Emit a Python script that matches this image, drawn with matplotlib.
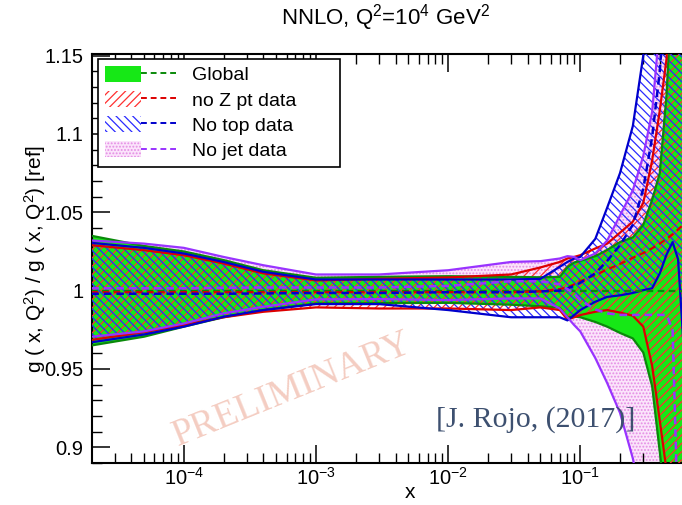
import numpy as np
import matplotlib
matplotlib.use('Agg')
import matplotlib.pyplot as plt
from matplotlib.patches import Patch
from matplotlib.lines import Line2D
from matplotlib.legend_handler import HandlerTuple
from matplotlib.ticker import LogLocator, MultipleLocator, FuncFormatter, NullFormatter

plt.rcParams['font.family'] = ['Liberation Sans', 'DejaVu Sans']
plt.rcParams['mathtext.fontset'] = 'custom'
plt.rcParams['mathtext.rm'] = 'Liberation Sans'
plt.rcParams['mathtext.it'] = 'Liberation Sans:italic'
plt.rcParams['mathtext.bf'] = 'Liberation Sans:bold'
plt.rcParams['hatch.linewidth'] = 0.9

# ---------------- data ----------------
x_vals = [2.0e-5, 5e-5, 1e-4, 2e-4, 4e-4, 1e-3, 3e-3, 1e-2, 3e-2, 5e-2, 7e-2, 8e-2, 9e-2,
          0.1, 0.13, 0.16, 0.2, 0.25, 0.3, 0.35, 0.4, 0.45, 0.5, 0.55, 0.6]

global_up = [1.035, 1.0285, 1.025, 1.0195, 1.013, 1.0082, 1.0088, 1.0092, 1.0088, 1.0085, 1.0088,
             1.015, 1.018, 1.019, 1.022, 1.026, 1.031, 1.034, 1.042, 1.058, 1.075, 1.125, 1.2, 1.3, 1.4]
global_lo = [0.965, 0.9706, 0.977, 0.983, 0.9876, 0.9918, 0.992, 0.9922, 0.991, 0.990, 0.989,
             0.983, 0.9835, 0.983, 0.980, 0.977, 0.973, 0.9695, 0.9605, 0.939, 0.897, 0.86, 0.83, 0.80, 0.77]
global_c = [1.0, 1.0, 1.0, 1.0, 1.0, 1.0, 1.0, 1.0, 1.0, 1.0, 1.0, 1.0, 1.0,
            1.0, 1.0, 1.0, 1.0, 1.0, 1.0, 1.0, 1.0, 1.0, 1.0, 1.0, 1.0]

noz_up = [1.029, 1.0258, 1.0226, 1.0173, 1.011, 1.0065, 1.0075, 1.0084, 1.0103, 1.0148, 1.0183,
          1.0205, 1.0215, 1.0226, 1.0269, 1.030, 1.037, 1.044, 1.056, 1.083, 1.115, 1.148, 1.22, 1.3, 1.4]
noz_lo = [0.9685, 0.9735, 0.978, 0.983, 0.9865, 0.9893, 0.9886, 0.9886, 0.9876, 0.9893, 0.9876,
          0.9815, 0.983, 0.9844, 0.9865, 0.9876, 0.986, 0.984, 0.977, 0.952, 0.917, 0.885, 0.85, 0.82, 0.79]
noz_c = [0.999, 0.999, 0.999, 0.999, 0.999, 0.999, 0.999, 0.999, 0.999, 0.9995, 1.001,
         1.002, 1.004, 1.006, 1.010, 1.0135, 1.017, 1.021, 1.024, 1.027, 1.030, 1.033, 1.036, 1.039, 1.042]

notop_up = [1.0305, 1.0273, 1.0237, 1.0183, 1.012, 1.0071, 1.0071, 1.0071, 1.0071, 1.0075, 1.0152,
            1.0183, 1.0205, 1.0215, 1.033, 1.053, 1.075, 1.105, 1.15, 1.22, 1.3, 1.4, 1.5, 1.6, 1.7]
notop_lo = [0.967, 0.972, 0.977, 0.9833, 0.9876, 0.9914, 0.9914, 0.9876, 0.983, 0.983, 0.983,
            0.981, 0.9844, 0.9876, 0.9929, 0.996, 0.997, 0.9985, 1.0003, 1.0015, 1.011, 1.023, 1.031, 1.02, 0.97]
notop_c = [0.998, 0.998, 0.998, 0.998, 0.9982, 0.9985, 0.9985, 0.999, 0.999, 0.9995, 1.0,
           1.0015, 1.003, 1.005, 1.011, 1.019, 1.029, 1.042, 1.065, 1.098, 1.14, 1.2, 1.27, 1.35, 1.45]

nojet_up = [1.032, 1.030, 1.0273, 1.0215, 1.0162, 1.0103, 1.0103, 1.013, 1.0183, 1.0188, 1.0205,
            1.022, 1.0215, 1.0194, 1.0237, 1.032, 1.048, 1.064, 1.086, 1.114, 1.17, 1.25, 1.35, 1.45, 1.55]
nojet_lo = [0.9706, 0.974, 0.979, 0.9855, 0.9897, 0.9944, 0.9946, 0.994, 0.995, 0.995, 0.9886,
            0.983, 0.978, 0.974, 0.957, 0.941, 0.922, 0.893, 0.86, 0.83, 0.80, 0.77, 0.74, 0.70, 0.66]
nojet_c = [1.0015, 1.0015, 1.0015, 1.0018, 1.002, 1.002, 1.002, 1.003, 1.006, 1.006, 1.004,
           1.001, 0.998, 0.994, 0.988, 0.9855, 0.9845, 0.9845, 0.9845, 0.9845, 0.9845, 0.9845, 0.975, 0.85, 0.75]

labels = ["Global", "no Z pt data", "No top data", "No jet data"]
y_ticks = [0.9, 0.95, 1.0, 1.05, 1.1, 1.15]

# ---------------- styling ----------------
GREEN = '#16e816'
DGREEN = '#0a8a0a'
RED = '#dd0000'
LRED = '#ff3030'
BLUE = '#0000cc'
LBLUE = '#2a2aff'
VIOL = '#9933ff'
PINK_FACE = '#fbe4fb'
PINK_HATCH = '#e48ce4'
H_RED = '////'
H_BLUE = '\\\\\\\\'
H_PINK = '.....'

fig = plt.figure(figsize=(6.82, 5.05), dpi=100)
ax = fig.add_axes([92/682, 1-463/505, 1-92/682, (463-54)/505])
ax.set_xscale('log')
ax.set_xlim(2.02e-5, 0.589)
ax.set_ylim(0.89, 1.151)

x = np.array(x_vals)

# no jet: dotted pink fill (bottom layer)
ax.fill_between(x, nojet_lo, nojet_up, facecolor=PINK_FACE, edgecolor=PINK_HATCH,
                hatch=H_PINK, linewidth=0, zorder=1)
# global: solid green
ax.fill_between(x, global_lo, global_up, facecolor=GREEN, edgecolor='none', linewidth=0, zorder=2)
# no Z pt: red hatch
ax.fill_between(x, noz_lo, noz_up, facecolor='none', edgecolor=LRED, hatch=H_RED,
                linewidth=0, zorder=3)
# no top: blue hatch
ax.fill_between(x, notop_lo, notop_up, facecolor='none', edgecolor=LBLUE, hatch=H_BLUE,
                linewidth=0, zorder=4)

lw = 1.6
for up, lo, col in [(global_up, global_lo, DGREEN), (noz_up, noz_lo, RED),
                    (notop_up, notop_lo, BLUE), (nojet_up, nojet_lo, VIOL)]:
    ax.plot(x, up, color=col, lw=lw, zorder=5)
    ax.plot(x, lo, color=col, lw=lw, zorder=5)

dash = (0, (3, 2))
ax.plot(x, global_c, color=DGREEN, lw=1.6, ls=dash, zorder=6)
ax.plot(x, noz_c, color=RED, lw=1.6, ls=dash, zorder=6)
ax.plot(x, notop_c, color=BLUE, lw=1.8, ls=dash, zorder=6)
ax.plot(x, nojet_c, color=VIOL, lw=1.8, ls=dash, zorder=6)

# ---------------- axes ----------------
ax.yaxis.set_major_locator(MultipleLocator(0.05))
ax.yaxis.set_minor_locator(MultipleLocator(0.01))
ax.yaxis.set_major_formatter(FuncFormatter(lambda v, p: '{:g}'.format(round(v, 3))))
ax.set_yticks(y_ticks)
ax.xaxis.set_major_locator(LogLocator(base=10, numticks=20))
ax.xaxis.set_minor_locator(LogLocator(base=10, subs=np.arange(2, 10), numticks=20))
ax.xaxis.set_minor_formatter(NullFormatter())

ax.tick_params(which='major', direction='in', length=13, width=1.1, top=True, right=False,
               labelsize=14.5, pad=6)
ax.tick_params(which='minor', direction='in', length=7, width=1.0, top=True, right=False)
ax.tick_params(axis='x', which='major', pad=3)
for s in ['left', 'bottom', 'top']:
    ax.spines[s].set_linewidth(1.5)
ax.spines['right'].set_visible(False)

ax.set_xlabel('x', fontsize=15)
ax.xaxis.set_label_coords(0.539, -0.05)
ax.set_ylabel(r'g ( x, Q$^{2}$) / g ( x, Q$^{2}$) [ref]', fontsize=15)
ax.yaxis.set_label_coords(-0.075, 0.50)

fig.text(385/682, 1-18/505, r'NNLO, Q$^{2}$=10$^{4}$ GeV$^{2}$', ha='center', va='center', fontsize=16)

# ---------------- legend ----------------
h_glob = (Patch(facecolor=GREEN, edgecolor='none'), Line2D([], [], color=DGREEN, lw=1.4, ls=dash))
h_noz = (Patch(facecolor='none', edgecolor=LRED, hatch=H_RED, lw=0), Line2D([], [], color=RED, lw=1.4, ls=dash))
h_top = (Patch(facecolor='none', edgecolor=LBLUE, hatch=H_BLUE, lw=0), Line2D([], [], color=BLUE, lw=1.4, ls=dash))
h_jet = (Patch(facecolor=PINK_FACE, edgecolor=PINK_HATCH, hatch=H_PINK, lw=0), Line2D([], [], color=VIOL, lw=1.4, ls=dash))
leg = ax.legend([h_glob, h_noz, h_top, h_jet], labels,
                handler_map={tuple: HandlerTuple(ndivide=None, pad=0)},
                loc='upper left', bbox_to_anchor=(0.010, 0.741, 0.41, 0.247), mode='expand',
                fontsize=14, frameon=True, fancybox=False, framealpha=1, edgecolor='black',
                handlelength=3.7, handleheight=0.9, handletextpad=0.8, labelspacing=0.33,
                borderpad=0.35, borderaxespad=0)
leg.get_frame().set_linewidth(1.2)
leg.set_zorder(10)

# ---------------- watermarks ----------------
fig.text(292/682, 1-390/505, 'PRELIMINARY', family=['Liberation Serif', 'DejaVu Serif'],
         fontsize=27, color='#f4cdc2', rotation=22, ha='center', va='center', zorder=0)
fig.text(536/682, 1-420/505, '[J. Rojo, (2017)]', family=['Liberation Serif', 'DejaVu Serif'],
         fontsize=21.5, color='#3d5070', ha='center', va='center', zorder=20)

fig.savefig('out.png', dpi=100)
